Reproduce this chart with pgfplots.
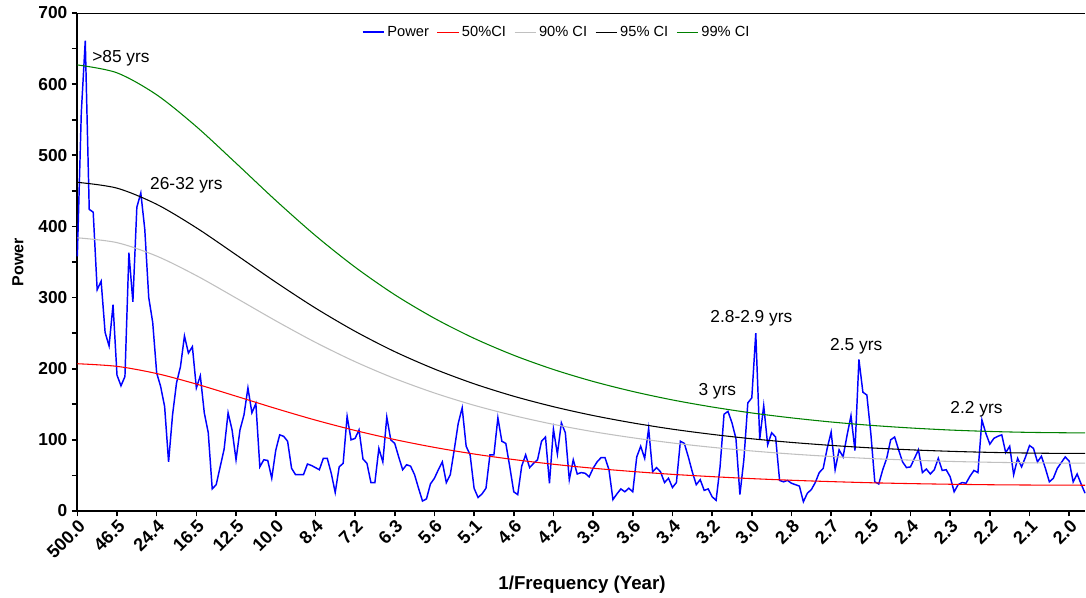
\documentclass[border=0pt]{standalone}
\usepackage{pgfplots}
\pgfplotsset{compat=1.18}
\usepackage{fontspec}
\setmainfont{Liberation Sans}
\definecolor{cired}{RGB}{255,0,0}
\definecolor{cigray}{RGB}{192,192,192}
\definecolor{cigreen}{RGB}{0,128,0}
\definecolor{pblue}{RGB}{0,0,255}
\begin{document}
\begin{tikzpicture}
\path[use as bounding box] (-58pt,-65.25pt) rectangle (756.5pt,383.25pt);
\begin{axis}[
  at={(0,0)}, anchor=south west,
  scale only axis, width=755.8pt, height=373.5pt,
  xmin=0, xmax=254, ymin=0, ymax=700,
  axis lines=left,
  axis line style={-, line width=1.5pt},
  tick align=outside,
  major tick length=4pt, minor tick length=4pt,
  tick style={line width=1.2pt, black},
  xtick={0,10,...,250},
  xticklabels={500.0,46.5,24.4,16.5,12.5,10.0,8.4,7.2,6.3,5.6,5.1,4.6,4.2,3.9,3.6,3.4,3.2,3.0,2.8,2.7,2.5,2.4,2.3,2.2,2.1,2.0},
  x tick label style={rotate=45, anchor=north east, font=\fontsize{13.5}{15}\selectfont\bfseries, inner sep=1pt},
  ytick={0,100,...,700},
  minor y tick num=1,
  y tick label style={font=\fontsize{13}{15}\selectfont\bfseries},
  /pgf/number format/assume math mode=true,
  extra y ticks={700}, extra y tick labels={},
  extra y tick style={grid=major, major grid style={black, line width=0.6pt}, major tick length=0pt},
  xlabel={1/Frequency (Year)},
  ylabel={Power},
  xlabel style={at={(axis description cs:0.5008,-0.1486)}, anchor=center, font=\fontsize{14}{16}\selectfont\bfseries},
  ylabel style={at={(axis description cs:-0.0589,0.5)}, anchor=center, font=\fontsize{12}{14}\selectfont\bfseries},
  legend style={at={(axis description cs:0.476,0.985)}, anchor=north, draw=none, fill=none,
    legend columns=-1, font=\fontsize{11}{13}\selectfont,
    /tikz/every even column/.append style={column sep=4pt}},
  legend image code/.code={\draw[#1] (0pt,0pt) -- (16pt,0pt);},
  clip=false,
]
\addplot[pblue, line width=1.1pt] coordinates {
(0,358) (1,560) (2,661) (3,424) (4,420) (5,311) (6,323) (7,251) (8,232) (9,290)
(10,191) (11,176) (12,189) (13,363) (14,294) (15,427) (16,447) (17,396) (18,300) (19,265)
(20,194) (21,175) (22,147) (23,69) (24,135) (25,180) (26,203) (27,246) (28,222) (29,231)
(30,173) (31,190) (32,138) (33,110) (34,31) (35,37) (36,62) (37,87) (38,138) (39,114)
(40,72) (41,114) (42,135) (43,173) (44,138) (45,151) (46,62) (47,72) (48,71) (49,46)
(50,85) (51,107) (52,105) (53,98) (54,60) (55,51) (56,51) (57,51) (58,66) (59,64)
(60,61) (61,58) (62,74) (63,74) (64,53) (65,26) (66,62) (67,67) (68,133) (69,100)
(70,102) (71,114) (72,73) (73,67) (74,40) (75,40) (76,88) (77,69) (78,132) (79,100)
(80,95) (81,76) (82,58) (83,65) (84,63) (85,51) (86,32) (87,14) (88,17) (89,38)
(90,46) (91,58) (92,69) (93,40) (94,51) (95,86) (96,123) (97,145) (98,91) (99,79)
(100,32) (101,19) (102,24) (103,32) (104,79) (105,79) (106,131) (107,98) (108,95) (109,62)
(110,27) (111,23) (112,63) (113,79) (114,61) (115,67) (116,72) (117,98) (118,104) (119,39)
(120,115) (121,80) (122,124) (123,110) (124,44) (125,72) (126,52) (127,54) (128,53) (129,48)
(130,60) (131,69) (132,75) (133,75) (134,58) (135,16) (136,24) (137,31) (138,27) (139,32)
(140,27) (141,76) (142,91) (143,74) (144,116) (145,55) (146,61) (147,55) (148,40) (149,46)
(150,33) (151,40) (152,98) (153,95) (154,76) (155,55) (156,37) (157,44) (158,29) (159,31)
(160,20) (161,15) (162,62) (163,136) (164,140) (165,124) (166,102) (167,23) (168,72) (169,152)
(170,159) (171,250) (172,101) (173,148) (174,93) (175,110) (176,104) (177,43) (178,41) (179,43)
(180,39) (181,37) (182,35) (183,13) (184,25) (185,30) (186,40) (187,54) (188,60) (189,88)
(190,111) (191,58) (192,86) (193,76) (194,106) (195,134) (196,85) (197,213) (198,167) (199,163)
(200,109) (201,41) (202,38) (203,58) (204,74) (205,100) (206,104) (207,86) (208,69) (209,61)
(210,62) (211,74) (212,86) (213,54) (214,59) (215,52) (216,58) (217,74) (218,57) (219,58)
(220,48) (221,27) (222,37) (223,40) (224,39) (225,49) (226,57) (227,54) (228,128) (229,109)
(230,94) (231,102) (232,105) (233,107) (234,82) (235,91) (236,51) (237,74) (238,62) (239,76)
(240,92) (241,88) (242,69) (243,77) (244,60) (245,41) (246,46) (247,60) (248,68) (249,76)
(250,70) (251,41) (252,52) (253,38) (254,25)
};
\addlegendentry{Power}
\addplot[cired, line width=0.8pt, smooth] coordinates {
(0,207) (10,203.3) (20,193.2) (30,178.4) (40,161.4) (50,144.1) (60,127.8) (70,113.2) (80,100.4) (90,89.4)
(100,80.1) (110,72.3) (120,65.7) (130,60.1) (140,55.5) (150,51.5) (160,48.3) (170,45.5) (180,43.2) (190,41.3)
(200,39.7) (210,38.5) (220,37.6) (230,36.9) (240,36.5) (250,36.3) (254,36.2)
};
\addlegendentry{50\%CI}
\addplot[cigray, line width=0.8pt, smooth] coordinates {
(0,384) (10,377.2) (20,358.3) (30,330.9) (40,299.4) (50,267.4) (60,237.1) (70,209.9) (80,186.2) (90,165.9)
(100,148.6) (110,134.1) (120,121.8) (130,111.5) (140,102.9) (150,95.6) (160,89.5) (170,84.4) (180,80.1) (190,76.6)
(200,73.7) (210,71.5) (220,69.7) (230,68.5) (240,67.7) (250,67.3) (254,67.2)
};
\addlegendentry{90\% CI}
\addplot[black, line width=0.8pt, smooth] coordinates {
(0,462) (10,453.8) (20,431.1) (30,398.1) (40,360.2) (50,321.7) (60,285.3) (70,252.6) (80,224.0) (90,199.6)
(100,178.8) (110,161.3) (120,146.6) (130,134.2) (140,123.8) (150,115.0) (160,107.7) (170,101.5) (180,96.4) (190,92.2)
(200,88.7) (210,86.0) (220,83.9) (230,82.4) (240,81.4) (250,80.9) (254,80.9)
};
\addlegendentry{95\% CI}
\addplot[cigreen, line width=0.8pt, smooth] coordinates {
(0,627) (10,615.9) (20,585.0) (30,540.3) (40,488.9) (50,436.6) (60,387.2) (70,342.8) (80,304.0) (90,270.9)
(100,242.7) (110,218.9) (120,198.9) (130,182.1) (140,168.0) (150,156.1) (160,146.2) (170,137.8) (180,130.9) (190,125.1)
(200,120.4) (210,116.7) (220,113.8) (230,111.8) (240,110.5) (250,109.9) (254,109.8)
};
\addlegendentry{99\% CI}
\node[anchor=west, inner sep=0pt, font=\fontsize{13}{15}\selectfont] at (axis cs:3.7,637) {>85 yrs};
\node[anchor=west, inner sep=0pt, font=\fontsize{13}{15}\selectfont] at (axis cs:18.3,458) {26-32 yrs};
\node[anchor=west, inner sep=0pt, font=\fontsize{13}{15}\selectfont] at (axis cs:159.5,271) {2.8-2.9 yrs};
\node[anchor=west, inner sep=0pt, font=\fontsize{13}{15}\selectfont] at (axis cs:156.5,169) {3 yrs};
\node[anchor=west, inner sep=0pt, font=\fontsize{13}{15}\selectfont] at (axis cs:189.7,231) {2.5 yrs};
\node[anchor=west, inner sep=0pt, font=\fontsize{13}{15}\selectfont] at (axis cs:220,143) {2.2 yrs};
\end{axis}
\end{tikzpicture}
\end{document}
